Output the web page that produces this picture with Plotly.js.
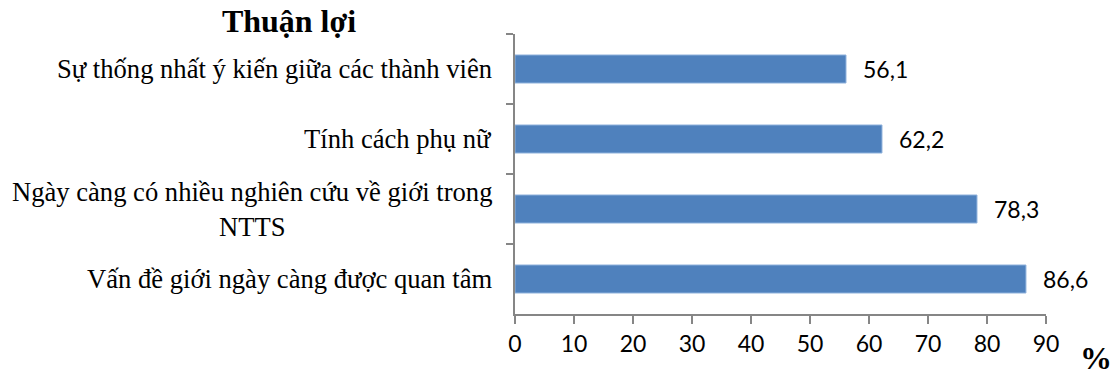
<!DOCTYPE html>
<html>
<head>
<meta charset="utf-8">
<script src="https://cdn.plot.ly/plotly-3.0.1.min.js"></script>
<style>html,body{margin:0;padding:0;background:#fff;}#chart{width:1120px;height:378px;}</style>
</head>
<body>
<div id="chart"></div>
<script>
const categories = [
  "Sự thống nhất ý kiến giữa các thành viên",
  "Tính cách phụ nữ",
  "Ngày càng có nhiều nghiên cứu về giới trong<br>NTTS",
  "Vấn đề giới ngày càng được quan tâm"
];
const values = [56.1, 62.2, 78.3, 86.6];
const xTicks = [0, 10, 20, 30, 40, 50, 60, 70, 80, 90];
const titleText = "Thuận lợi";
const unitText = "%";

const SERIF = "Liberation Serif, Times New Roman, serif";
const SANS = "Lato, Open Sans, sans-serif";

const trace = {
  type: "bar",
  orientation: "h",
  x: values,
  y: categories,
  marker: {color: "#4F81BD", line: {color: "#8EB1DC", width: 1}},
  hoverinfo: "skip"
};

const annotations = categories.map(c => ({
  xref: "paper", yref: "y", x: -0.04, y: c,
  xanchor: "right", yanchor: "middle", align: "center",
  text: c, showarrow: false,
  font: {family: SERIF, size: 26.6, color: "#000"}
}));
values.forEach((v, i) => annotations.push({
  xref: "x", yref: "y", x: v, y: categories[i],
  xanchor: "left", yanchor: "middle", xshift: 15,
  text: v.toFixed(1).replace(".", ","), showarrow: false,
  font: {family: SANS, size: 23, color: "#000"}
}));
annotations.push({
  xref: "paper", yref: "paper", x: 1.094, y: 0,
  xanchor: "center", yanchor: "bottom", yshift: -64,
  text: "<b>" + unitText + "</b>", showarrow: false,
  font: {family: SERIF, size: 32, color: "#000"}
});

const layout = {
  width: 1120, height: 378,
  margin: {l: 515, r: 74, t: 34, b: 64},
  paper_bgcolor: "#fff", plot_bgcolor: "#fff",
  separators: ",.",
  showlegend: false,
  bargap: 0.6,
  title: {
    text: "<b>" + titleText + "</b>",
    x: 289 / 1120, xanchor: "center", y: 1 - 21 / 378, yanchor: "middle",
    font: {family: SERIF, size: 32, color: "#000"}
  },
  xaxis: {
    range: [0, 90], tickvals: xTicks, ticktext: xTicks.map(String),
    showgrid: false, zeroline: false,
    showline: true, linecolor: "#868686", linewidth: 2,
    ticks: "outside", ticklen: 8, tickwidth: 2, tickcolor: "#868686",
    tickfont: {family: SANS, size: 23, color: "#000"},
    fixedrange: true
  },
  yaxis: {
    type: "category", categoryorder: "array", categoryarray: categories,
    range: [3.5, -0.5],
    showgrid: false, zeroline: false,
    showline: true, linecolor: "#868686", linewidth: 2,
    ticks: "outside", tickson: "boundaries", ticklen: 7, tickwidth: 2, tickcolor: "#868686",
    showticklabels: false, fixedrange: true
  },
  annotations: annotations
};

Plotly.newPlot("chart", [trace], layout, {displayModeBar: false, staticPlot: true});
</script>
</body>
</html>
